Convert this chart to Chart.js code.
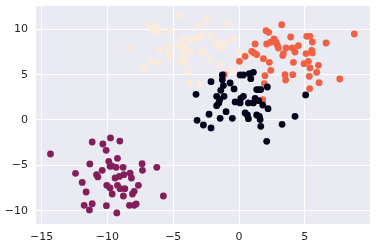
<!DOCTYPE html>
<html>
<head>
<meta charset="utf-8">
<script src="https://cdn.jsdelivr.net/npm/chart.js@4/dist/chart.umd.min.js"></script>
<style>
html,body{margin:0;padding:0;background:#fff;}
#wrap{width:377px;height:248px;}
</style>
</head>
<body>
<div id="wrap"><canvas id="c" width="377" height="248"></canvas></div>
<script>
const xTicks = [-15, -10, -5, 0, 5];
const yTicks = [-10, -5, 0, 5, 10];

const blackX = [-3.27,-3.19,-2.71,-2.13,-2.28,-2.13,-1.70,-1.70,-1.54,-1.47,-1.44,-1.39,-1.27,-1.27,-1.19,-1.14,-0.99,-0.68,-0.51,-0.38,-0.30,0.08,0.33,0.13,0.33,0.46,0.63,0.71,0.71,0.78,0.89,1.09,1.09,1.34,1.49,1.65,1.49,1.34,1.54,1.65,1.80,2.15,2.20,2.10,3.27,4.25,5.06,1.60,0.08,1.22];
const blackY = [2.83,-0.04,-0.55,-0.88,0.63,4.23,2.61,1.58,1.88,2.24,0.18,3.27,4.96,4.45,3.79,2.61,0.92,4.08,0.18,3.42,1.99,4.96,4.96,2.39,2.61,0.77,0.55,0.15,1.88,5.11,4.56,5.26,1.88,3.35,3.35,3.35,2.13,0.55,0.40,-0.70,1.65,3.64,1.25,-2.35,-0.48,0.40,2.76,0.04,1.88,2.39];

const purpleX = [-14.33,-11.16,-10.35,-9.77,-9.06,-10.10,-11.34,-12.43,-11.92,-11.62,-11.77,-11.37,-11.16,-10.83,-10.73,-10.40,-9.90,-9.24,-9.67,-9.34,-8.81,-9.42,-9.09,-8.75,-8.28,-8.18,-10.05,-9.80,-9.64,-9.24,-9.04,-8.68,-8.79,-8.10,-7.97,-7.65,-7.37,-7.34,-6.25,-5.75,-10.08,-9.29,-8.33,-7.97,-7.82,-9.80];
const purpleY = [-3.75,-2.43,-2.65,-1.98,-2.32,-3.35,-4.85,-5.88,-6.88,-7.94,-9.41,-9.92,-9.23,-6.03,-6.28,-5.55,-4.56,-4.23,-5.07,-5.22,-5.22,-6.40,-6.22,-6.03,-5.85,-6.40,-7.21,-7.50,-8.16,-7.21,-7.57,-7.57,-8.38,-8.16,-7.87,-7.21,-4.82,-5.55,-5.22,-8.38,-9.45,-10.25,-9.41,-9.41,-9.26,-5.10];

const orangeX = [3.24,8.76,2.05,2.25,1.22,2.10,2.41,2.66,2.81,2.91,2.99,3.37,3.32,3.57,3.92,4.05,4.25,4.51,4.13,4.08,3.49,3.54,5.14,5.39,5.57,5.09,5.52,5.57,4.94,5.27,5.39,5.90,6.03,5.34,5.37,6.08,6.61,7.65,0.96,1.14,1.34,1.85,2.30,2.41,1.97,1.92,0.03,1.80,-1.14,0.46];
const orangeY = [10.51,9.49,9.85,9.67,8.38,8.38,8.57,8.93,8.57,8.24,7.94,7.32,7.10,7.94,9.15,7.94,7.50,8.20,6.36,5.00,5.00,4.41,9.23,9.23,8.60,7.32,7.68,7.39,6.21,6.47,5.74,5.26,6.03,4.82,3.46,4.12,8.49,4.52,7.57,7.39,7.21,6.76,6.36,5.48,4.89,4.01,6.47,2.24,5.00,7.02];

const creamX = [-4.48,-2.46,-6.89,-6.51,-6.25,-6.13,-6.51,-5.24,-3.09,-0.81,-8.41,-6.00,-5.37,-5.29,-5.24,-4.73,-4.35,-4.10,-4.28,-3.67,-3.34,-2.96,-2.84,-2.15,-4.35,-3.97,-3.67,-4.23,-4.48,-4.10,-2.84,-2.66,-2.25,-1.70,-1.44,-1.24,-1.06,-1.50,-0.43,-0.05,0.20,0.84,-1.57,-0.56,-3.85,-3.77,-2.96,-7.22,-6.63,-6.05];
const creamY = [11.51,11.14,10.44,10.04,10.26,9.78,9.78,9.78,10.33,10.62,7.94,7.76,8.13,7.39,7.10,8.13,8.13,8.13,8.90,8.86,9.04,9.23,9.30,9.34,7.39,7.57,7.39,6.65,6.47,6.30,7.57,7.39,6.65,8.57,8.31,8.12,8.38,8.05,8.93,7.46,7.39,7.02,6.10,5.55,5.37,4.08,3.97,5.63,6.47,6.29];

function pts(xs, ys){ return xs.map((x,i)=>({x:x, y:ys[i]})); }

const bgPlugin = {
  id:'bg',
  beforeDraw(chart){
    const {ctx, chartArea:a} = chart;
    ctx.save();
    ctx.fillStyle = '#EAEAF2';
    ctx.fillRect(a.left, a.top, a.right-a.left, a.bottom-a.top);
    ctx.restore();
  }
};

const tickFont = {family:'DejaVu Sans', size:11};
const fmt = v => String(v).replace('-', '\u2212');

new Chart(document.getElementById('c'), {
  type:'scatter',
  data:{
    datasets:[
      {data:pts(blackX, blackY), backgroundColor:'#03051A', borderWidth:0, pointRadius:3.4, pointHoverRadius:3.4},
      {data:pts(purpleX, purpleY), backgroundColor:'#841E5A', borderWidth:0, pointRadius:3.4, pointHoverRadius:3.4},
      {data:pts(orangeX, orangeY), backgroundColor:'#F06043', borderWidth:0, pointRadius:3.4, pointHoverRadius:3.4},
      {data:pts(creamX, creamY), backgroundColor:'#FAEBDD', borderWidth:0, pointRadius:3.4, pointHoverRadius:3.4}
    ]
  },
  options:{
    responsive:false,
    animation:false,
    devicePixelRatio:1,
    layout:{padding:{top:6, right:7, left:0, bottom:0}},
    plugins:{legend:{display:false}, tooltip:{enabled:false}},
    scales:{
      x:{
        type:'linear', min:-15.43, max:9.95,
        afterBuildTicks(s){ s.ticks = xTicks.map(v=>({value:v})); },
        afterFit(s){ s.height = 24; s.paddingLeft = 0; s.paddingRight = 0; },
        grid:{color:'#FFFFFF', lineWidth:1, drawTicks:false},
        border:{display:false},
        ticks:{font:tickFont, color:'#262626', padding:7, maxRotation:0, callback:fmt}
      },
      y:{
        type:'linear', min:-11.47, max:12.57,
        afterBuildTicks(s){ s.ticks = yTicks.map(v=>({value:v})); },
        afterFit(s){ s.width = 36; s.paddingTop = 0; s.paddingBottom = 0; },
        grid:{color:'#FFFFFF', lineWidth:1, drawTicks:false},
        border:{display:false},
        ticks:{font:tickFont, color:'#262626', padding:8, callback:fmt}
      }
    }
  },
  plugins:[bgPlugin]
});
</script>
</body>
</html>
